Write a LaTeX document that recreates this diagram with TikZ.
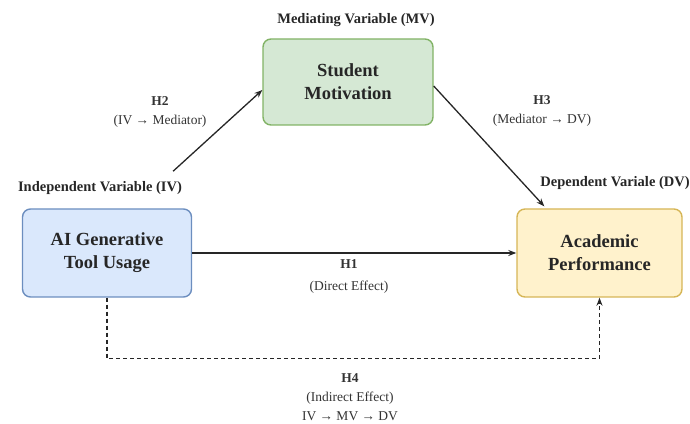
\documentclass[tikz,border=0pt]{standalone}
\usepackage{fontspec}
\setmainfont{Liberation Serif}
\usetikzlibrary{arrows.meta, positioning}
\definecolor{ivfill}{HTML}{DAE8FC}
\definecolor{ivdraw}{HTML}{6C8EBF}
\definecolor{mvfill}{HTML}{D5E8D4}
\definecolor{mvdraw}{HTML}{82B366}
\definecolor{dvfill}{HTML}{FFF2CC}
\definecolor{dvdraw}{HTML}{D6B656}
\tikzset{
  varbox/.style  = {rounded corners=8pt, line width=1.4pt, align=center, inner sep=4pt,
                    font=\fontsize{18.5}{23}\selectfont\bfseries, text=black!85},
  ivbox/.style   = {varbox, draw=ivdraw, fill=ivfill, minimum width=169pt, minimum height=88pt},
  mvbox/.style   = {varbox, draw=mvdraw, fill=mvfill, minimum width=170pt, minimum height=86pt},
  dvbox/.style   = {varbox, draw=dvdraw, fill=dvfill, minimum width=165pt, minimum height=88pt},
  varlabel/.style= {font=\fontsize{14.5}{18}\selectfont\bfseries, text=black!85, inner sep=1pt},
  hyp/.style     = {align=center, font=\fontsize{13.5}{19}\selectfont, text=black!80},
  arrow/.style   = {-{Stealth[length=8pt, width=6pt]}, line width=1.3pt, black!85},
}

\begin{document}
\begin{tikzpicture}[
    x=1pt, y=1pt,
    dashedarrow/.style={arrow, dash pattern=on 4pt off 3pt, line width=1.1pt}
]
\useasboundingbox (0,0) rectangle (690,423);

% ---------------- variables ----------------
\node[ivbox] (iv) at (107,170) {AI Generative\\Tool Usage};
\node[mvbox] (mv) at (348,341) {Student\\Motivation};
\node[dvbox] (dv) at (599.5,170) {Academic\\Performance};

\node[varlabel] (ivlab) at (100,235) {Independent Variable (IV)};
\node[varlabel] (mvlab) at (356,403) {Mediating Variable (MV)};
\node[varlabel] (dvlab) at (615,240) {Dependent Variale (DV)};

% ---------------- paths ----------------
\draw[arrow] ([shift={(-10,9)}]ivlab.north east) -- ([yshift=-8]mv.west);
\draw[arrow] ([yshift=-4]mv.east) -- ([shift={(28,2)}]dv.north west);
\draw[arrow] (iv.east) -- (dv.west);
\draw[dashedarrow] (iv.south) -- ++(0,-61) coordinate (bend) -| (dv.south);

% ---------------- hypotheses ----------------
\node[hyp] (h2) at (160,311) {\textbf{H2}\\(IV → Mediator)};
\node[hyp] (h3) at (542,312) {\textbf{H3}\\(Mediator → DV)};
\node[hyp] (h1) at (349,147) {\textbf{H1}\\[3pt](Direct Effect)};
\node[hyp] (h4) at (350,26) {\textbf{H4}\\(Indirect Effect)\\IV → MV → DV};

\end{tikzpicture}
\end{document}
